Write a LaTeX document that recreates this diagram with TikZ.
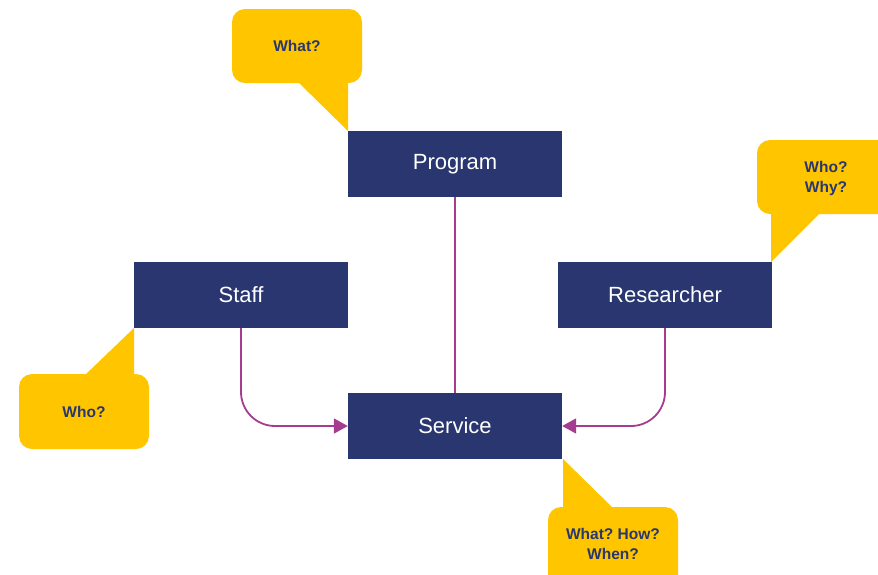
\documentclass[tikz,border=0pt]{standalone}
\usepackage{fontspec}
\setmainfont{Liberation Sans}
\usetikzlibrary{arrows.meta}
\definecolor{navy}{HTML}{29366F}
\definecolor{gold}{HTML}{FFC600}
\definecolor{plum}{HTML}{A53C8F}
\begin{document}
\begin{tikzpicture}[x=1pt,y=-1pt,
  box/.style={fill=navy,text=white,minimum width=214pt,minimum height=66pt,inner sep=0pt,font=\fontsize{22}{26}\selectfont},
  bubble/.style={fill=gold,rounded corners=13pt},
  tail/.style={fill=gold},
  qtext/.style={text=navy,align=center,inner sep=0pt,font=\fontsize{15.5}{20}\selectfont\bfseries},
  conn/.style={draw=plum,line width=1.8pt},
  arr/.style={-{Triangle[length=14pt,width=15pt]}}]
\useasboundingbox (0,0) rectangle (878,574);
% boxes
\node[box] (prog) at (455,164) {Program};
\node[box] (staff) at (241,295) {Staff};
\node[box] (res) at (665,295) {Researcher};
\node[box] (serv) at (455,426) {Service};
% callouts
\fill[bubble] (232,9) rectangle (362,83);
\fill[tail] (298,82) -- (348,131) -- (348,82) -- cycle;
\node[qtext] (qprog) at (297,46) {What?};

\fill[bubble] (757,140) rectangle (892,214);
\fill[tail] (771,213) -- (771,262) -- (820,213) -- cycle;
\node[qtext] (qres) at (826,178) {Who?\\Why?};

\fill[bubble] (19,374) rectangle (149,449);
\fill[tail] (85,375) -- (134,328) -- (134,375) -- cycle;
\node[qtext] (qstaff) at (84,412) {Who?};

\fill[bubble] (548,507) rectangle (678,592);
\fill[tail] (563,459) -- (613,508) -- (563,508) -- cycle;
\node[qtext] (qserv) at (613,544) {What?~How?\\When?};
% connectors
\draw[conn] (prog.south) -- (serv.north);
\draw[conn,arr,rounded corners=34pt] (staff.south) |- (serv.west);
\draw[conn,arr,rounded corners=34pt] (res.south) |- (serv.east);
\end{tikzpicture}
\end{document}
